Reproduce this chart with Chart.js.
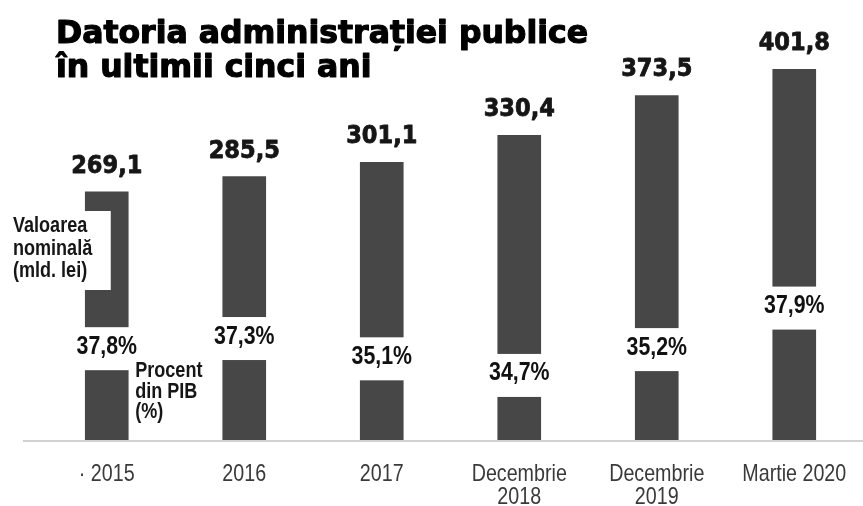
<!DOCTYPE html>
<html lang="ro">
<head>
<meta charset="utf-8">
<title>Datoria administrației publice</title>
<script src="https://cdn.jsdelivr.net/npm/chart.js@4.4.1/dist/chart.umd.min.js"></script>
<style>
  html, body { margin: 0; padding: 0; background: #fff; }
  #wrap { width: 863px; height: 506px; position: relative; }
</style>
</head>
<body>
<div id="wrap"><canvas id="datorie"></canvas></div>
<script>
// date
const perioade = ['· 2015', '2016', '2017', ['Decembrie', '2018'], ['Decembrie', '2019'], 'Martie 2020'];
const valoareNominala = [269.1, 285.5, 301.1, 330.4, 373.5, 401.8];   // mld. lei
const procentPIB = [37.8, 37.3, 35.1, 34.7, 35.2, 37.9];               // % din PIB
// nivelul (pe scala mld. lei) la care stă eticheta procentului în bară
const nivelProcent = [99, 110, 88, 70, 98, 143];

const titlu = ['Datoria administrației publice', 'în ultimii cinci ani'];

const culoareBara = '#474747';
const virgula = v => v.toFixed(1).replace('.', ',');
const ingust = '"Liberation Sans", Arial, sans-serif';

// text condensat: Liberation Sans strâns pe orizontală (ca un Arial Narrow)
function textIngust(ctx, text, x, y, align) {
    ctx.save();
    ctx.translate(x, y);
    ctx.scale(0.82, 1);
    ctx.textAlign = align;
    ctx.fillText(text, 0, 0);
    ctx.restore();
}

const etichete = {
    id: 'etichete',
    afterDatasetsDraw(chart) {
        const ctx = chart.ctx;
        const y = chart.scales.y;
        const x = chart.scales.x;
        const meta = chart.getDatasetMeta(0);
        ctx.save();
        ctx.textBaseline = 'alphabetic';
        ctx.lineJoin = 'round';

        // valorile nominale deasupra barelor
        ctx.fillStyle = '#161616';
        ctx.strokeStyle = '#161616';
        ctx.lineWidth = 0.8;
        ctx.font = 'bold 25px "DejaVu Sans Condensed", "DejaVu Sans"';
        ctx.textAlign = 'center';
        meta.data.forEach((bar, i) => {
            ctx.fillText(virgula(valoareNominala[i]), bar.x, bar.y - 19);
            ctx.strokeText(virgula(valoareNominala[i]), bar.x, bar.y - 19);
        });

        // procentele din PIB, pe fond alb, taie bara
        ctx.font = 'bold 26px ' + ingust;
        meta.data.forEach((bar, i) => {
            const cy = y.getPixelForValue(nivelProcent[i]);
            ctx.fillStyle = '#fff';
            ctx.fillRect(bar.x - bar.width / 2 - 2, cy - 21.5, bar.width + 4, 43);
            ctx.fillStyle = '#111';
            textIngust(ctx, virgula(procentPIB[i]) + '%', bar.x, cy + 5, 'center');
        });

        // legenda explicativa din stanga
        const b0 = meta.data[0];
        ctx.fillStyle = '#fff';
        ctx.fillRect(0, 211, b0.x + 4, 79);
        ctx.fillStyle = '#161616';
        ctx.font = 'bold 22px ' + ingust;
        ['Valoarea', 'nominală', '(mld. lei)'].forEach((t, k) => textIngust(ctx, t, 13, 232 + k * 22.5, 'left'));
        ['Procent', 'din PIB', '(%)'].forEach((t, k) => textIngust(ctx, t, b0.x + b0.width / 2 + 7, 377 + k * 20.5, 'left'));

        // linia de baza
        const y0 = y.getPixelForValue(0);
        ctx.strokeStyle = '#d2d2d2';
        ctx.lineWidth = 2;
        ctx.beginPath();
        ctx.moveTo(chart.chartArea.left - 15, y0 + 1);
        ctx.lineTo(chart.width, y0 + 1);
        ctx.stroke();

        // etichetele axei x
        ctx.fillStyle = '#3a3a3a';
        ctx.font = '24px ' + ingust;
        perioade.forEach((p, i) => {
            const linii = Array.isArray(p) ? p : [p];
            linii.forEach((t, k) => textIngust(ctx, t, x.getPixelForTick(i), y0 + 41 + k * 23, 'center'));
        });

        // titlul
        ctx.fillStyle = '#000';
        ctx.strokeStyle = '#000';
        ctx.lineWidth = 1.2;
        ctx.textAlign = 'left';
        ctx.font = 'bold 31.5px "DejaVu Sans", sans-serif';
        titlu.forEach((t, k) => {
            ctx.fillText(t, 56, 43 + k * 34);
            ctx.strokeText(t, 56, 43 + k * 34);
        });
        ctx.restore();
    }
};

new Chart(document.getElementById('datorie'), {
    type: 'bar',
    data: {
        labels: perioade,
        datasets: [{
            label: 'Valoarea nominală (mld. lei)',
            data: valoareNominala,
            backgroundColor: culoareBara,
            barThickness: 43,
            borderWidth: 0
        }]
    },
    options: {
        responsive: true,
        maintainAspectRatio: false,
        animation: false,
        layout: { padding: { left: 38, right: -3, top: 0, bottom: 0 } },
        plugins: {
            legend: { display: false },
            tooltip: { enabled: false },
            title: { display: false }
        },
        scales: {
            x: {
                grid: { display: false, drawTicks: false },
                border: { display: false },
                ticks: { display: false },
                afterFit: s => { s.height = 66; }
            },
            y: {
                display: false,
                min: 0,
                max: 477
            }
        }
    },
    plugins: [etichete]
});
</script>
</body>
</html>
